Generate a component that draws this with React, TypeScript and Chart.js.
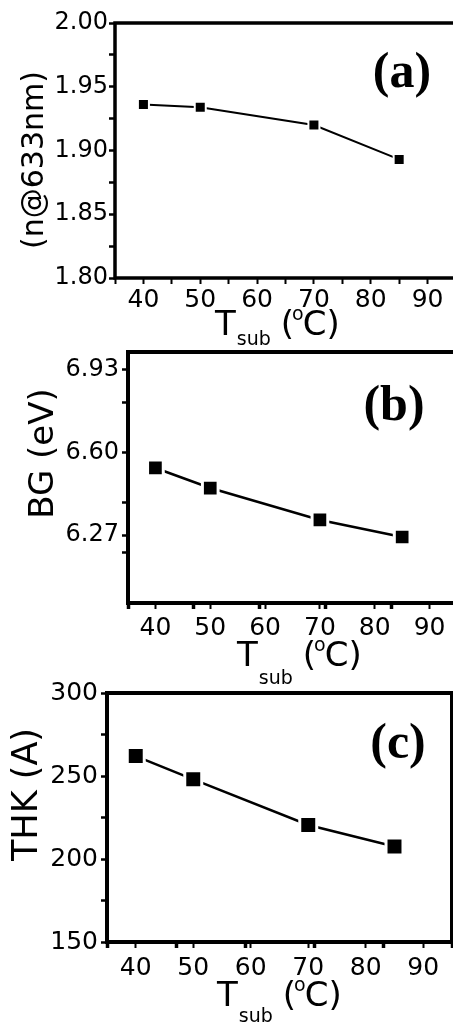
import React, { useEffect, useRef } from 'react';
import { Chart, registerables } from 'chart.js';

Chart.register(...registerables);

// ---- data ----
const T_SUB = [40, 50, 70, 85];
const N_633 = [1.936, 1.934, 1.92, 1.893];
const BG_EV = [6.538, 6.458, 6.331, 6.263];
const THK_A = [262, 248, 220.5, 207.5];

// ---- ticks ----
const X_LABELS = [40, 50, 60, 70, 80, 90];
const X_TICKS_A = [35, 40, 45, 50, 55, 60, 65, 70, 75, 80, 85, 90, 95];
const X_TICKS_BC = [35, 40, 47, 50, 59, 60, 70, 71, 80, 83, 90, 95];
const X_HEAVY_BC = [35, 47, 59, 71, 83, 95];
const Y_TICKS_A = [1.8, 1.825, 1.85, 1.875, 1.9, 1.925, 1.95, 1.975, 2.0];
const Y_LABELS_A = [1.8, 1.85, 1.9, 1.95, 2.0];
const Y_TICKS_B = [6.2, 6.27, 6.4, 6.6, 6.8, 6.93];
const Y_LABELS_B = [6.27, 6.6, 6.93];
const Y_TICKS_C = [150, 175, 200, 225, 250, 275, 300];
const Y_LABELS_C = [150, 200, 250, 300];

const has = (list: number[], v: number) => list.some((x) => Math.abs(x - v) < 1e-6);

const PANELS: any[] = [
  {
    top: 0, width: 460, height: 350,
    area: { left: 115, top: 23, right: 456, bottom: 278 },
    xMin: 35, xMax: 95, xTicks: X_TICKS_A, xLabels: X_LABELS, xHeavy: [],
    yMin: 1.8, yMax: 2.0, yTicks: Y_TICKS_A, yLabels: Y_LABELS_A, yDec: 2,
    values: N_633,
    pointRadius: 7.8, pointBorder: 2, lineWidth: 2, boxWidth: 3.5,
    yFont: 24, xFont: 25, yPad: 1, xPad: 1,
    yTitle: { text: '(n@633nm)', size: 30, baseX: 43, centerY: 160 },
    xTitle: { left: 215, baseline: 335, subDy: 10 },
    tag: { text: '(a)', cx: 402, baseline: 87 },
  },
  {
    top: 345, width: 462, height: 350,
    area: { left: 128, top: 352, right: 457, bottom: 603 },
    xMin: 35, xMax: 95, xTicks: X_TICKS_BC, xLabels: X_LABELS, xHeavy: X_HEAVY_BC,
    yMin: 6.0, yMax: 7.0, yTicks: Y_TICKS_B, yLabels: Y_LABELS_B, yDec: 2,
    values: BG_EV,
    pointRadius: 11.1, pointBorder: 3, lineWidth: 2.5, boxWidth: 4,
    yFont: 24, xFont: 25, yPad: 3, xPad: 4,
    yTitle: { text: 'BG (eV)', size: 34, baseX: 53, centerY: 453.5 },
    xTitle: { left: 237, baseline: 666, subDy: 18 },
    tag: { text: '(b)', cx: 394, baseline: 420 },
  },
  {
    top: 680, width: 460, height: 343,
    area: { left: 107, top: 693, right: 452, bottom: 942 },
    xMin: 35, xMax: 95, xTicks: X_TICKS_BC, xLabels: X_LABELS, xHeavy: X_HEAVY_BC,
    yMin: 150, yMax: 300, yTicks: Y_TICKS_C, yLabels: Y_LABELS_C, yDec: 0,
    values: THK_A,
    pointRadius: 12, pointBorder: 3, lineWidth: 2.5, boxWidth: 4,
    yFont: 25, xFont: 25, yPad: 3, xPad: 5,
    yTitle: { text: 'THK (A)', size: 35, baseX: 37, centerY: 794.5 },
    xTitle: { left: 217, baseline: 1006, subDy: 16 },
    tag: { text: '(c)', cx: 398, baseline: 758 },
  },
];

const SANS = "'DejaVu Sans', sans-serif";
const SERIF = "'Liberation Serif', 'Times New Roman', serif";

function decorPlugin(p: any) {
  return {
    id: 'decor',
    afterDraw(chart: any) {
      const ctx = chart.ctx;
      const { left, top, right, bottom } = chart.chartArea;
      ctx.save();
      // frame
      ctx.strokeStyle = '#000';
      ctx.lineWidth = p.boxWidth;
      ctx.strokeRect(left, top, right - left, bottom - top);

      ctx.fillStyle = '#000';
      // y title (rotated)
      ctx.save();
      ctx.translate(p.yTitle.baseX, p.yTitle.centerY - p.top);
      ctx.rotate(-Math.PI / 2);
      ctx.font = `${p.yTitle.size}px ${SANS}`;
      ctx.textAlign = 'center';
      ctx.textBaseline = 'alphabetic';
      ctx.fillText(p.yTitle.text, 0, 0);
      ctx.restore();

      // x title: T_sub (°C)
      const big = `34px ${SANS}`;
      const small = `19px ${SANS}`;
      const base = p.xTitle.baseline - p.top;
      let x = p.xTitle.left;
      ctx.textAlign = 'left';
      ctx.textBaseline = 'alphabetic';
      ctx.font = big;
      ctx.fillText('T', x, base);
      x += ctx.measureText('T').width + 1;
      ctx.font = small;
      ctx.fillText('sub', x, base + p.xTitle.subDy);
      x += ctx.measureText('sub').width + 10;
      ctx.font = big;
      ctx.fillText('(', x, base);
      x += ctx.measureText('(').width - 2;
      ctx.font = small;
      ctx.fillText('o', x, base - 15);
      x += ctx.measureText('o').width - 1;
      ctx.font = big;
      ctx.fillText('C)', x, base);

      // panel tag
      ctx.font = `bold 50px ${SERIF}`;
      ctx.textAlign = 'center';
      ctx.fillText(p.tag.text, p.tag.cx, p.tag.baseline - p.top);
      ctx.restore();
    },
  };
}

function PanelChart({ p }: { p: any }) {
  const ref = useRef<HTMLCanvasElement | null>(null);
  useEffect(() => {
    const canvas = ref.current;
    if (!canvas) return;
    const a = p.area;
    const chart = new Chart(canvas, {
      type: 'line',
      data: {
        datasets: [
          {
            data: T_SUB.map((t, i) => ({ x: t, y: p.values[i] })),
            borderColor: '#000',
            borderWidth: p.lineWidth,
            pointStyle: 'rect',
            pointRadius: p.pointRadius,
            pointHoverRadius: p.pointRadius,
            pointBackgroundColor: '#000',
            pointBorderColor: '#fff',
            pointBorderWidth: p.pointBorder,
            tension: 0,
            fill: false,
            clip: false,
          },
        ],
      },
      options: {
        responsive: false,
        animation: false,
        devicePixelRatio: 1,
        events: [],
        layout: {
          autoPadding: false,
          padding: { left: 0, top: a.top - p.top, right: p.width - a.right, bottom: 0 },
        },
        plugins: { legend: { display: false }, tooltip: { enabled: false }, title: { display: false } },
        scales: {
          x: {
            type: 'linear',
            position: 'bottom',
            min: p.xMin,
            max: p.xMax,
            afterBuildTicks: (s: any) => {
              s.ticks = p.xTicks.map((v: number) => ({ value: v }));
            },
            afterFit: (s: any) => {
              s.height = p.height - (a.bottom - p.top);
              s.paddingLeft = 0;
              s.paddingRight = 0;
            },
            ticks: {
              autoSkip: false,
              maxRotation: 0,
              minRotation: 0,
              padding: p.xPad,
              color: '#000',
              font: { family: SANS, size: p.xFont },
              callback: (v: any) => (has(p.xLabels, Number(v)) ? String(v) : ''),
            },
            grid: {
              display: true,
              drawOnChartArea: false,
              drawTicks: true,
              tickLength: 6,
              tickColor: '#000',
              tickWidth: (c: any) => (c.tick && has(p.xHeavy, c.tick.value) ? 3.5 : 2),
            },
            border: { display: false },
          },
          y: {
            type: 'linear',
            position: 'left',
            min: p.yMin,
            max: p.yMax,
            afterBuildTicks: (s: any) => {
              s.ticks = p.yTicks.map((v: number) => ({ value: v }));
            },
            afterFit: (s: any) => {
              s.width = a.left;
              s.paddingTop = 0;
              s.paddingBottom = 0;
            },
            ticks: {
              autoSkip: false,
              padding: p.yPad,
              color: '#000',
              font: { family: SANS, size: p.yFont },
              callback: (v: any) => (has(p.yLabels, Number(v)) ? Number(v).toFixed(p.yDec) : ''),
            },
            grid: {
              display: true,
              drawOnChartArea: false,
              drawTicks: true,
              tickLength: 6,
              tickColor: '#000',
              tickWidth: 2.5,
            },
            border: { display: false },
          },
        },
      },
      plugins: [decorPlugin(p)],
    } as any);
    return () => chart.destroy();
  }, [p]);
  return (
    <canvas
      ref={ref}
      width={p.width}
      height={p.height}
      style={{ position: 'absolute', left: 0, top: p.top, display: 'block' }}
    />
  );
}

export default function App() {
  return (
    <div
      style={{
        position: 'absolute',
        left: 0,
        top: 0,
        width: 453,
        height: 1023,
        overflow: 'hidden',
        background: '#fff',
      }}
    >
      {PANELS.map((p, i) => (
        <PanelChart key={i} p={p} />
      ))}
    </div>
  );
}
